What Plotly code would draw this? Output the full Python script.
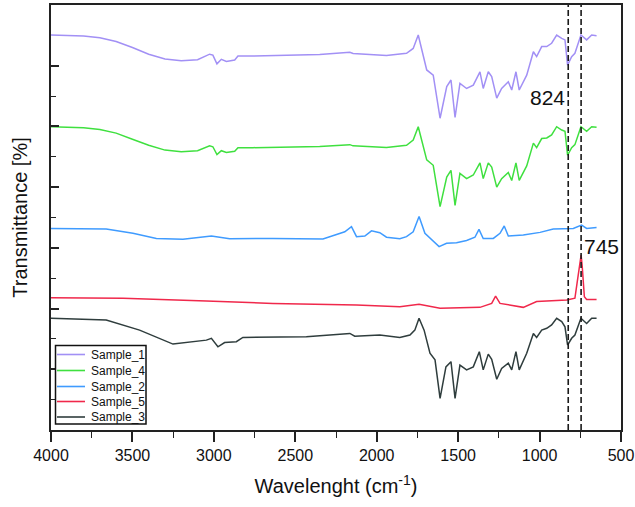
import plotly.graph_objects as go

# ---------------- data (wavenumber cm^-1, offset transmittance units) ----------------
s1_x = [4000, 3800, 3700, 3600, 3500, 3400, 3300, 3200, 3100, 3026, 3006, 2981, 2954, 2923, 2872, 2852,
        2760, 2555, 2350, 2165, 2145, 1940, 1817, 1776, 1745, 1693, 1653, 1611, 1570, 1544, 1519, 1489,
        1448, 1407, 1366, 1346, 1315, 1294, 1263, 1233, 1192, 1171, 1145, 1125, 1079, 1038, 1018, 987,
        956, 926, 895, 864, 844, 828, 803, 783, 746, 711, 680, 650]
s1_y = [13.01, 12.98, 12.92, 12.80, 12.60, 12.38, 12.22, 12.16, 12.20, 12.38, 12.35, 12.06, 12.21, 12.14, 12.19, 12.32,
        12.32, 12.34, 12.37, 12.44, 12.40, 12.34, 12.41, 12.57, 13.01, 11.86, 11.69, 10.27, 11.31, 11.53, 10.30, 11.42,
        11.25, 11.36, 11.80, 11.25, 11.80, 11.64, 10.93, 11.25, 11.47, 11.20, 11.80, 11.20, 11.69, 12.46, 12.30, 12.63,
        12.63, 12.74, 13.01, 12.90, 12.85, 12.02, 12.30, 12.41, 13.01, 12.85, 13.01, 12.99]

s4_x = [4000, 3800, 3700, 3600, 3500, 3400, 3300, 3200, 3100, 3026, 3006, 2981, 2954, 2923, 2872, 2852,
        2760, 2555, 2350, 2165, 2145, 1940, 1817, 1776, 1745, 1693, 1653, 1611, 1570, 1544, 1519, 1489,
        1448, 1407, 1366, 1346, 1315, 1294, 1263, 1233, 1192, 1171, 1145, 1125, 1079, 1038, 1018, 987,
        956, 926, 895, 864, 844, 828, 803, 783, 746, 711, 680, 650]
s4_y = [9.99, 9.96, 9.90, 9.78, 9.58, 9.38, 9.22, 9.17, 9.20, 9.36, 9.33, 9.07, 9.20, 9.14, 9.18, 9.30,
        9.30, 9.32, 9.34, 9.40, 9.36, 9.31, 9.38, 9.55, 9.99, 8.90, 8.72, 7.36, 8.33, 8.55, 7.40, 8.45,
        8.28, 8.40, 8.80, 8.28, 8.80, 8.66, 8.00, 8.28, 8.48, 8.22, 8.80, 8.22, 8.70, 9.45, 9.30, 9.60,
        9.62, 9.72, 9.99, 9.88, 9.84, 9.05, 9.30, 9.40, 9.99, 9.84, 9.99, 9.97]

s2_x = [4000, 3661, 3497, 3353, 3190, 3046, 3015, 2903, 2637, 2330, 2288, 2196, 2155, 2124, 2073, 2032,
        1981, 1940, 1858, 1817, 1776, 1740, 1704, 1663, 1617, 1571, 1510, 1448, 1397, 1372, 1346, 1284,
        1243, 1217, 1192, 1100, 997, 916, 833, 793, 742, 711, 650]
s2_y = [6.64, 6.62, 6.48, 6.31, 6.28, 6.35, 6.39, 6.30, 6.31, 6.29, 6.37, 6.53, 6.70, 6.37, 6.39, 6.56,
        6.50, 6.35, 6.30, 6.37, 6.53, 7.03, 6.48, 6.26, 6.04, 6.15, 6.17, 6.24, 6.35, 6.61, 6.31, 6.31,
        6.48, 6.72, 6.39, 6.42, 6.51, 6.62, 6.62, 6.64, 6.75, 6.64, 6.67]

s5_x = [4000, 3558, 3046, 2637, 2124, 1981, 1858, 1740, 1611, 1366, 1294, 1270, 1243, 1100, 1018, 833,
        783, 770, 745, 738, 725, 711, 650]
s5_y = [4.36, 4.34, 4.25, 4.17, 4.12, 4.08, 4.06, 4.14, 4.01, 4.04, 4.17, 4.41, 4.17, 4.04, 4.23, 4.28,
        4.34, 4.83, 5.76, 5.38, 4.39, 4.30, 4.30]

s3_x = [4000, 3661, 3456, 3251, 3046, 3015, 2975, 2934, 2862, 2822, 2432, 2165, 2135, 2032, 1981, 1858,
        1796, 1766, 1740, 1709, 1673, 1642, 1611, 1575, 1544, 1519, 1489, 1448, 1407, 1370, 1346, 1315,
        1294, 1263, 1233, 1192, 1171, 1145, 1125, 1079, 1038, 1018, 987, 956, 926, 895, 864, 844,
        828, 803, 783, 746, 711, 680, 650]
s3_y = [3.68, 3.62, 3.29, 2.83, 2.96, 3.02, 2.74, 2.88, 2.91, 3.05, 3.07, 3.18, 3.09, 3.13, 3.13, 3.05,
        3.13, 3.29, 3.68, 3.29, 2.53, 2.31, 1.04, 2.08, 2.25, 1.04, 2.14, 1.98, 2.08, 2.58, 1.98, 2.50,
        2.33, 1.67, 2.03, 2.20, 1.98, 2.58, 1.98, 2.53, 3.18, 3.05, 3.29, 3.35, 3.46, 3.68, 3.57, 3.40,
        2.80, 3.02, 3.13, 3.68, 3.51, 3.68, 3.68]

series_names = ["Sample_1", "Sample_4", "Sample_2", "Sample_5", "Sample_3"]
series_x = [s1_x, s4_x, s2_x, s5_x, s3_x]
series_y = [s1_y, s4_y, s2_y, s5_y, s3_y]
series_colors = ["#a290f5", "#3fe03f", "#3f9bff", "#f0284b", "#2f3d3d"]

marker_lines = [824, 745]
marker_labels = ["824", "745"]
marker_label_y = [10.94, 6.06]

x_ticks = [4000, 3500, 3000, 2500, 2000, 1500, 1000, 500]
x_minor = [3750, 3250, 2750, 2250, 1750, 1250, 750]
y_major = [2, 4, 6, 8, 10, 12]
y_minor = [1, 3, 5, 7, 9, 11]

FONT = "Liberation Sans, Arial, sans-serif"
W, H = 635, 507
ML, MR, MT, MB = 51, 14, 5, 77
PW, PH = W - ML - MR, H - MT - MB


def px2paper_x(px):
    return (px - ML) / PW


def px2paper_y(py):
    return (H - MB - py) / PH


fig = go.Figure()
for name, xs, ys, col in zip(series_names, series_x, series_y, series_colors):
    fig.add_trace(go.Scatter(x=xs, y=ys, mode="lines", name=name, showlegend=False,
                             line=dict(color=col, width=1.5)))

for xv in marker_lines:
    fig.add_shape(type="line", xref="x", yref="paper", x0=xv, x1=xv, y0=0, y1=1,
                  line=dict(color="#1a1a1a", width=1.6, dash="6px,3px"))

fig.add_annotation(x=marker_lines[0], y=marker_label_y[0], text=marker_labels[0], showarrow=False,
                   xanchor="right", yanchor="middle", xshift=-1,
                   font=dict(family=FONT, size=21, color="#111"))
fig.add_annotation(x=marker_lines[1], y=marker_label_y[1], text=marker_labels[1], showarrow=False,
                   xanchor="left", yanchor="middle", xshift=1,
                   font=dict(family=FONT, size=21, color="#111"))

# legend box (drawn by hand so the row spacing matches the reference)
leg_rows_py = [354.5, 370.5, 386.5, 401.5, 417.0]
fig.add_shape(type="rect", xref="paper", yref="paper",
              x0=px2paper_x(55.5), x1=px2paper_x(146), y0=px2paper_y(424), y1=px2paper_y(345.5),
              line=dict(color="#111", width=1.5), fillcolor="white", layer="above")
for name, col, py in zip(series_names, series_colors, leg_rows_py):
    fig.add_shape(type="line", xref="paper", yref="paper",
                  x0=px2paper_x(57), x1=px2paper_x(85), y0=px2paper_y(py), y1=px2paper_y(py),
                  line=dict(color=col, width=1.6), layer="above")
    fig.add_annotation(xref="paper", yref="paper", x=px2paper_x(88.5), y=px2paper_y(py),
                       text=name, showarrow=False, xanchor="left", yanchor="middle",
                       font=dict(family=FONT, size=12, color="#111"))

fig.update_layout(
    width=W, height=H,
    margin=dict(l=ML, r=MR, t=MT, b=MB),
    paper_bgcolor="white", plot_bgcolor="white",
    font=dict(family=FONT, color="#111"),
    showlegend=False,
)

fig.update_xaxes(
    range=[4000, 500], tickvals=x_ticks, ticktext=[str(v) for v in x_ticks],
    ticks="outside", ticklen=10, tickwidth=1.5, tickcolor="#222",
    minor=dict(tickvals=x_minor, ticks="outside", ticklen=6, tickwidth=1.3, tickcolor="#222"),
    showline=True, linecolor="#222", linewidth=1.5, mirror=True,
    showgrid=False, zeroline=False, automargin=False,
    tickfont=dict(family=FONT, size=16, color="#111"),
    title=dict(text="Wavelenght (cm<sup>-1</sup>)", font=dict(family=FONT, size=20, color="#111"),
               standoff=16),
)
fig.update_yaxes(
    range=[0, 14], tickvals=y_major, showticklabels=False,
    ticks="inside", ticklen=8, tickwidth=1.5, tickcolor="#222",
    minor=dict(tickvals=y_minor, ticks="inside", ticklen=5, tickwidth=1.3, tickcolor="#222"),
    showline=True, linecolor="#222", linewidth=1.5, mirror=True,
    showgrid=False, zeroline=False, automargin=False,
    title=dict(text="Transmittance [%]", font=dict(family=FONT, size=20, color="#111"), standoff=16),
)

fig.write_html("out.html", config={"displayModeBar": False},
               post_script="document.body.style.margin='0';document.body.style.padding='0';")
